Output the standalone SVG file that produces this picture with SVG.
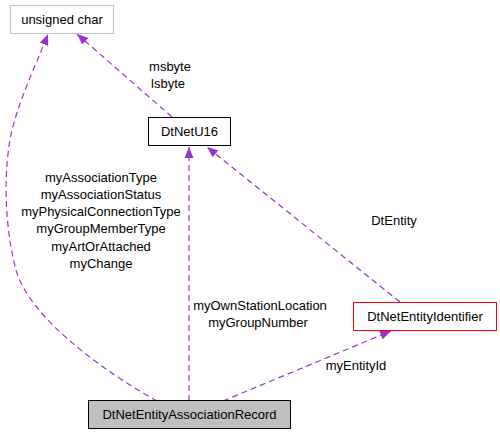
<svg xmlns="http://www.w3.org/2000/svg" width="500" height="435" viewBox="0 0 500 435">
<style>
text{font-family:"Liberation Sans",Arial,Helvetica,sans-serif;font-size:13px;fill:#000;text-anchor:middle}
.box{fill:#fff;stroke:#000;stroke-width:1}
.edge{fill:none;stroke:#9a32cd;stroke-width:1.2;stroke-dasharray:6,4}
</style>
<defs>
<marker id="ah" viewBox="0 0 11 9" refX="11" refY="4.5" markerWidth="11" markerHeight="9" markerUnits="userSpaceOnUse" orient="auto">
<path d="M0,0 L11,4.5 L0,9 Z" fill="#9a32cd"/>
</marker>
</defs>
<g id="edges">
<path class="edge" marker-end="url(#ah)" d="M172,117 L77,34"/>
<path class="edge" marker-end="url(#ah)" d="M157,401 C110,375 30,320 16,270 C3,220 4,165 12,130 C21,95 36,65 48,34"/>
<path class="edge" marker-end="url(#ah)" d="M189,401 L189,147"/>
<path class="edge" marker-end="url(#ah)" d="M400,302 L207,147"/>
<path class="edge" marker-end="url(#ah)" d="M223,401 L391,331"/>
<text x="170" y="71">msbyte</text>
<text x="168" y="88">lsbyte</text>
<text x="101" y="182">myAssociationType</text>
<text x="101" y="199">myAssociationStatus</text>
<text x="101" y="216">myPhysicalConnectionType</text>
<text x="101" y="233">myGroupMemberType</text>
<text x="101" y="251">myArtOrAttached</text>
<text x="101" y="268">myChange</text>
<text x="260" y="310">myOwnStationLocation</text>
<text x="258" y="327">myGroupNumber</text>
<text x="394" y="225">DtEntity</text>
<text x="356" y="370">myEntityId</text>
</g>
<g id="unsigned_char">
<rect class="box" x="10.5" y="5.5" width="103" height="28" style="stroke:#bfbfbf"/>
<text x="62" y="23.5">unsigned char</text>
</g>
<g id="DtNetU16">
<rect class="box" x="148.5" y="117.5" width="82" height="28"/>
<text x="189.5" y="136">DtNetU16</text>
</g>
<g id="DtNetEntityIdentifier">
<rect class="box" x="353.5" y="302.5" width="143" height="28" style="stroke:#ff0000"/>
<text x="425" y="321">DtNetEntityIdentifier</text>
</g>
<g id="DtNetEntityAssociationRecord">
<rect class="box" x="88.5" y="400.5" width="202" height="28" style="fill:#bfbfbf"/>
<text x="189.5" y="419">DtNetEntityAssociationRecord</text>
</g>
</svg>
